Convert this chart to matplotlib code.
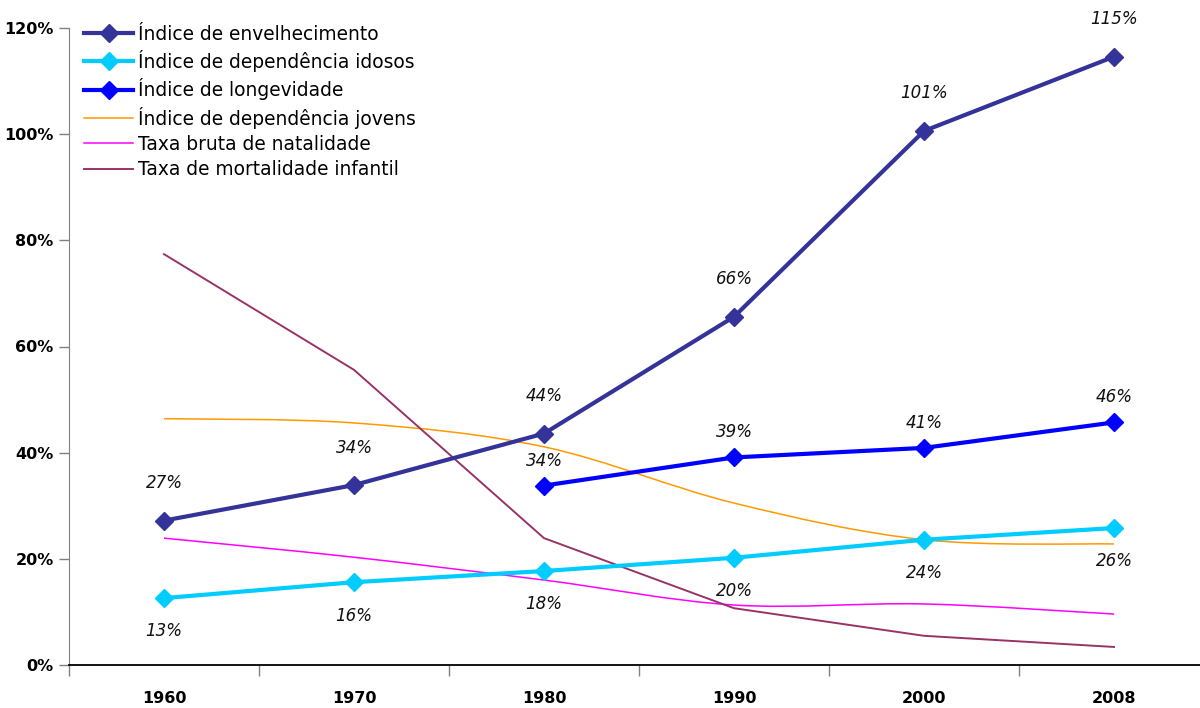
import numpy as np
import matplotlib.pyplot as plt
from matplotlib.path import Path
from matplotlib.patches import PathPatch
from matplotlib.lines import Line2D
from matplotlib.ticker import PercentFormatter

years = ["1960", "1970", "1980", "1990", "2000", "2008"]

envelhecimento = [27.2, 33.9, 43.6, 65.6, 100.6, 114.6]
dep_idosos = [12.6, 15.6, 17.7, 20.2, 23.6, 25.8]
longevidade = [33.8, 39.1, 40.9, 45.7]          # from 1980 on
dep_jovens = [46.4, 45.6, 41.1, 30.5, 23.6, 22.8]
natalidade = [23.9, 20.3, 16.0, 11.3, 11.5, 9.6]
mortalidade = [77.4, 55.6, 23.9, 10.7, 5.5, 3.4]

c_env = "#333399"
c_ido = "#00CCFF"
c_lon = "#0000FF"
c_jov = "#FF9900"
c_nat = "#FF00FF"
c_mor = "#993366"


def smooth_path(x, y, tension=1 / 6):
    # Catmull-Rom style bezier through the points (like a spreadsheet "smoothed line")
    x = np.asarray(x, float)
    y = np.asarray(y, float)
    n = len(x)
    verts = [(x[0], y[0])]
    codes = [Path.MOVETO]
    for i in range(n - 1):
        p0 = (x[max(i - 1, 0)], y[max(i - 1, 0)])
        p1 = (x[i], y[i])
        p2 = (x[i + 1], y[i + 1])
        p3 = (x[min(i + 2, n - 1)], y[min(i + 2, n - 1)])
        c1 = (p1[0] + (p2[0] - p0[0]) * tension, p1[1] + (p2[1] - p0[1]) * tension)
        c2 = (p2[0] - (p3[0] - p1[0]) * tension, p2[1] - (p3[1] - p1[1]) * tension)
        verts += [c1, c2, p2]
        codes += [Path.CURVE4] * 3
    return Path(verts, codes)


fig = plt.figure(figsize=(12, 7.08), dpi=100)
# plot area runs a little past the right edge of the figure
ax = fig.add_axes([69 / 1200, 43 / 708, 1140 / 1200, 637 / 708])

x = np.arange(len(years))
x_lon = x[2:]

ax.add_patch(PathPatch(smooth_path(x, dep_jovens), fill=False, color=c_jov, lw=1.1, zorder=2))
ax.add_patch(PathPatch(smooth_path(x, natalidade), fill=False, color=c_nat, lw=1.1, zorder=2))
ax.plot(x, mortalidade, color=c_mor, lw=1.4, zorder=2)

ax.plot(x, envelhecimento, color=c_env, lw=3, marker="D", ms=9, zorder=3)
ax.plot(x, dep_idosos, color=c_ido, lw=3, marker="D", ms=9, zorder=3)
ax.plot(x_lon, longevidade, color=c_lon, lw=3, marker="D", ms=9, zorder=3)

lab = dict(fontsize=12, style="italic", ha="center", va="center",
           textcoords="offset points", annotation_clip=False, color="#111111")
for xi, v in zip(x, envelhecimento):
    ax.annotate(f"{v:.0f}%", (xi, v), xytext=(0, 27), **lab)
for xi, v in zip(x, dep_idosos):
    ax.annotate(f"{v:.0f}%", (xi, v), xytext=(0, -24), **lab)
for xi, v in zip(x_lon, longevidade):
    ax.annotate(f"{v:.0f}%", (xi, v), xytext=(0, 18), **lab)

ax.set_ylim(0, 120)
ax.set_xlim(-0.5, 5.5)
ax.set_yticks(np.arange(0, 121, 20))
ax.yaxis.set_major_formatter(PercentFormatter(decimals=0))
for t in ax.get_yticklabels():
    t.set_fontweight("bold")
ax.tick_params(axis="y", length=7, width=1, color="#808080", labelsize=11.5, pad=4)

ax.set_xticks(np.arange(-0.5, 5.6, 1))
ax.set_xticklabels([])
ax.set_xticks(x, minor=True)
ax.set_xticklabels(years, minor=True, fontweight="bold", fontsize=11.5)
ax.tick_params(axis="x", which="major", length=8, width=1, color="#808080")
ax.tick_params(axis="x", which="minor", length=0, pad=19)

ax.spines["top"].set_visible(False)
ax.spines["right"].set_visible(False)
ax.spines["left"].set_color("#808080")
ax.spines["bottom"].set_color("black")
ax.spines["bottom"].set_linewidth(1.3)

# line-only entries get an invisible marker so every legend row has the same height
blank = dict(marker="D", ms=9, mfc="none", mec="none")
handles = [
    Line2D([], [], color=c_env, lw=3, marker="D", ms=9),
    Line2D([], [], color=c_ido, lw=3, marker="D", ms=9),
    Line2D([], [], color=c_lon, lw=3, marker="D", ms=9),
    Line2D([], [], color=c_jov, lw=1.1, **blank),
    Line2D([], [], color=c_nat, lw=1.1, **blank),
    Line2D([], [], color=c_mor, lw=1.4, **blank),
]
names = [
    "Índice de envelhecimento",
    "Índice de dependência idosos",
    "Índice de longevidade",
    "Índice de dependência jovens",
    "Taxa bruta de natalidade",
    "Taxa de mortalidade infantil",
]
ax.legend(handles, names, loc="upper left", bbox_to_anchor=(0.007, 1.017), frameon=False,
          fontsize=13.4, handlelength=2.6, handletextpad=0.3, labelspacing=0.34,
          borderaxespad=0)

fig.savefig("out.png", dpi=100)
